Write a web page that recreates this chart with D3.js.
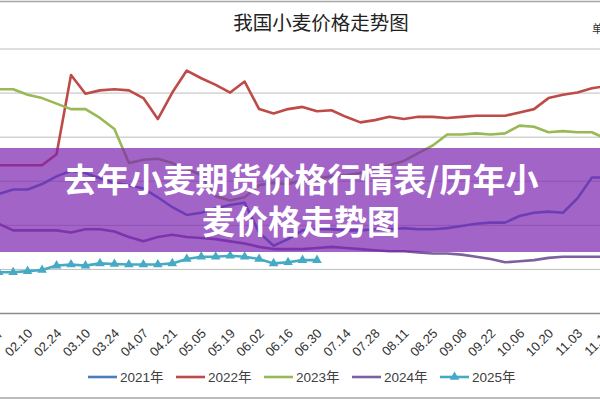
<!DOCTYPE html>
<html>
<head>
<meta charset="utf-8">
<script src="https://cdn.jsdelivr.net/npm/d3@7"></script>
<style>
  body { margin: 0; background: #fff; }
  svg { display: block; }
</style>
</head>
<body>
<script>
// weekly categories (only every other one gets a label)
const weeks = ["01.20","01.27","02.03","02.10","02.17","02.24","03.03","03.10","03.17","03.24",
  "03.31","04.07","04.14","04.21","04.28","05.05","05.12","05.19","05.26","06.02",
  "06.09","06.16","06.23","06.30","07.07","07.14","07.21","07.28","08.04","08.11",
  "08.18","08.25","09.01","09.08","09.15","09.22","09.29","10.06","10.13","10.20",
  "10.27","11.03","11.10","11.17","11.24","12.01"];

const years = ["2021年","2022年","2023年","2024年","2025年"];

// price values (元/吨)
const p2021 = [2730,2740,2760,2760,2785,2820,2845,2835,2810,2790,2780,2765,2725,2680,2645,2655,2675,2690,2700,2565,
  2505,2535,2575,2580,2580,2575,2575,2580,2580,2585,2580,2580,2585,2595,2605,2610,2610,2640,2655,2660,
  2655,2720,2815,2815,2820,2825];
const p2022 = [2870,2870,2870,2870,2870,2920,3280,3195,3210,3215,3210,3175,3080,3200,3300,3265,3235,3200,3250,3125,
  3105,3125,3135,3115,3120,3090,3065,3075,3090,3080,3090,3090,3085,3090,3095,3095,3095,3110,3125,3175,
  3190,3200,3220,3230,3240,3250];
const p2023 = [3215,3215,3215,3190,3175,3150,3125,3125,3085,3035,2880,2895,2900,2880,2855,2825,2730,2710,2725,2780,
  2790,2785,2800,2810,2820,2825,2835,2855,2870,2890,2925,2960,3010,3010,3015,3010,3015,3050,3045,3020,
  3025,3020,3020,2990,2980,2980];
const p2024 = [2620,2605,2575,2575,2575,2575,2565,2580,2580,2570,2545,2525,2545,2555,2545,2540,2535,2525,2515,2500,
  2490,2490,2490,2495,2500,2495,2490,2485,2480,2480,2475,2470,2470,2465,2455,2445,2430,2435,2440,2450,
  2455,2455,2455,2455,2455,2455];
const p2025 = [2385,2385,2385,2390,2395,2415,2420,2415,2425,2422,2420,2420,2420,2425,2445,2455,2455,2460,2455,2445,
  2425,2430,2440,2440];

const yTicks = [2200,2400,2600,2800,3000,3200,3400];

const colors = ["#4a7ebb","#be4b48","#98b954","#7d60a0","#46aac5"];
const seriesData = [p2021, p2022, p2023, p2024, p2025];

const w = 600, h = 400;
// the chart is cropped: plot area reaches past both edges of the picture
const plotLeft = -15.8, plotRight = 635.3, plotTop = 48.5, plotBottom = 313;

const x = d3.scalePoint().domain(weeks).range([plotLeft, plotRight]);
const y = d3.scaleLinear().domain([2200, 3400]).range([plotBottom, plotTop]);

const svg = d3.select("body").append("svg")
  .attr("width", w)
  .attr("height", h);

// outer chart frame
svg.append("rect")
  .attr("x", -10).attr("y", 1.5)
  .attr("width", w + 20).attr("height", 396.5)
  .attr("fill", "#fff")
  .attr("stroke", "#a6a6a6")
  .attr("stroke-width", 1.5);

// title and unit
svg.append("text")
  .attr("x", 321).attr("y", 30)
  .attr("text-anchor", "middle")
  .attr("font-family", "'Noto Sans CJK SC', sans-serif")
  .attr("font-size", 19.5)
  .attr("fill", "#222")
  .text("我国小麦价格走势图");

svg.append("text")
  .attr("x", 592).attr("y", 33)
  .attr("font-family", "'Noto Sans CJK SC', sans-serif")
  .attr("font-size", 11)
  .attr("fill", "#333")
  .text("单位：元/吨");

// gridlines (y labels sit off the left edge)
svg.append("g")
  .attr("transform", `translate(${plotLeft},0)`)
  .call(d3.axisLeft(y).tickValues(yTicks).tickSize(-(plotRight - plotLeft)).tickFormat(""))
  .call(g => g.select(".domain").remove())
  .call(g => g.selectAll(".tick line").attr("stroke", "#bdbdbd").attr("stroke-width", 1));

// x axis
const xAxis = svg.append("g")
  .attr("transform", `translate(0,${plotBottom})`)
  .call(d3.axisBottom(x).tickValues(weeks.filter((d, i) => i % 2 === 1)).tickSize(0));

xAxis.select(".domain").attr("stroke", "#8c8c8c").attr("stroke-width", 1.3);
xAxis.selectAll(".tick text")
  .attr("y", 0).attr("x", 0).attr("dy", "0.35em")
  .attr("text-anchor", "end")
  .attr("transform", "translate(2,18) rotate(-45)")
  .attr("font-family", "'Liberation Sans', sans-serif")
  .attr("font-size", 13)
  .attr("fill", "#333");

// lines
const line = d3.line()
  .defined(d => d != null)
  .x((d, i) => x(weeks[i]))
  .y(d => y(d));

seriesData.forEach((vals, k) => {
  svg.append("path")
    .datum(vals)
    .attr("fill", "none")
    .attr("stroke", colors[k])
    .attr("stroke-width", 2.6)
    .attr("stroke-linejoin", "round")
    .attr("d", line);
});

// triangle markers for 2025
const tri = d3.symbol().type(d3.symbolTriangle).size(40);
svg.append("g").selectAll("path")
  .data(p2025)
  .join("path")
  .attr("d", tri)
  .attr("fill", colors[4])
  .attr("transform", (d, i) => `translate(${x(weeks[i])},${y(d)})`);

// legend
const legend = svg.append("g").attr("transform", "translate(88,377)");
years.forEach((name, k) => {
  const item = legend.append("g").attr("transform", `translate(${k * 88},0)`);
  item.append("line")
    .attr("x1", 0).attr("x2", 29)
    .attr("stroke", colors[k])
    .attr("stroke-width", 2.6);
  if (k === 4) {
    item.append("path").attr("d", tri).attr("fill", colors[k]).attr("transform", "translate(14.5,0)");
  }
  item.append("text")
    .attr("x", 32).attr("dy", "0.35em")
    .attr("font-family", "'Liberation Sans', 'Noto Sans CJK SC', sans-serif")
    .attr("font-size", 13.5)
    .attr("fill", "#404040")
    .text(name);
});

// purple banner laid over the chart
svg.append("rect")
  .attr("x", 0).attr("y", 148)
  .attr("width", w).attr("height", 104)
  .attr("fill", "rgb(124,34,176)")
  .attr("fill-opacity", 0.7);

const bannerLines = ["去年小麦期货价格行情表/历年小", "麦价格走势图"];
svg.append("g").selectAll("text")
  .data(bannerLines)
  .join("text")
  .attr("x", 301)
  .attr("y", (d, i) => 192 + i * 42)
  .attr("text-anchor", "middle")
  .attr("font-family", "'Noto Sans CJK SC', sans-serif")
  .attr("font-weight", 700)
  .attr("font-size", 33)
  .attr("fill", "#fff")
  .text(d => d);
</script>
</body>
</html>
